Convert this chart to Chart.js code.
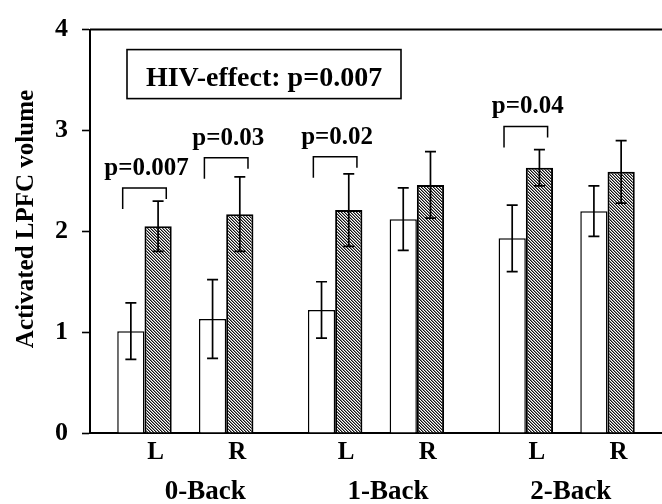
<!DOCTYPE html>
<html>
<head>
<meta charset="utf-8">
<script src="https://cdn.jsdelivr.net/npm/chart.js@4.4.1/dist/chart.umd.min.js"></script>
<style>
  html, body { margin: 0; padding: 0; background: #fff; }
  canvas { display: block; }
</style>
</head>
<body>
<canvas id="lpfcChart" width="662" height="504"></canvas>
<script>
// Values (order: 0-Back L, 0-Back R, 1-Back L, 1-Back R, 2-Back L, 2-Back R)
const tasks = ["0-Back", "1-Back", "2-Back"];
const hemispheres = ["L", "R"];
const controlMeans = [1.01, 1.13, 1.22, 2.12, 1.93, 2.20];
const controlErr = [0.28, 0.39, 0.28, 0.31, 0.33, 0.25];
const hivMeans = [2.05, 2.17, 2.21, 2.46, 2.63, 2.59];
const hivErr = [0.25, 0.37, 0.36, 0.33, 0.18, 0.31];
const yTicks = [0, 1, 2, 3, 4];
const pLabels = ["p=0.007", "p=0.03", "p=0.02", null, "p=0.04", null];
const pBracketY = [2.43, 2.73, 2.74, null, 3.04, null];
const hivEffectText = "HIV-effect: p=0.007";
const yTitle = "Activated LPFC volume";

document.addEventListener("DOMContentLoaded", function () {
    const FONT = "'Liberation Serif', 'Times New Roman', serif";
    const canvas = document.getElementById("lpfcChart");
    const ctx = canvas.getContext("2d");

    // spacing in bar widths: L->R inside a task, and task to task
    const pairStep = 3;
    const taskStep = 7;
    const taskLabelNudge = [20, 12, 4]; // px, the task names sit a bit right
    const positions = [];
    const tickText = {};
    tasks.forEach((t, ti) => {
        hemispheres.forEach((h, hi) => {
            const p = ti * taskStep + hi * pairStep;
            positions.push(p);
            tickText[p] = h;
        });
    });

    // diagonal hatch for the HIV bars
    function makeHatch() {
        const c = document.createElement("canvas");
        c.width = 3;
        c.height = 3;
        const g = c.getContext("2d");
        g.fillStyle = "#fff";
        g.fillRect(0, 0, 3, 3);
        for (let i = 0; i < 3; i++) {
            g.fillStyle = "#111";
            g.fillRect(i, i, 1, 1);
            g.fillStyle = "#8a8a8a";
            g.fillRect((i + 1) % 3, i, 1, 1);
        }
        return ctx.createPattern(c, "repeat");
    }

    const extras = {
        id: "extras",
        afterDatasetsDraw(chart) {
            const c = chart.ctx;
            const xs = chart.scales.x;
            const ys = chart.scales.y;
            const area = chart.chartArea;
            c.save();
            c.strokeStyle = "#000";
            c.fillStyle = "#000";

            // error bars
            [[controlMeans, controlErr], [hivMeans, hivErr]].forEach(([means, errs], di) => {
                chart.getDatasetMeta(di).data.forEach((bar, i) => {
                    const top = ys.getPixelForValue(means[i] + errs[i]);
                    const bot = ys.getPixelForValue(means[i] - errs[i]);
                    c.lineWidth = 1.7;
                    c.beginPath();
                    c.moveTo(bar.x, top); c.lineTo(bar.x, bot);
                    c.moveTo(bar.x - 5.5, top); c.lineTo(bar.x + 5.5, top);
                    c.moveTo(bar.x - 5.5, bot); c.lineTo(bar.x + 5.5, bot);
                    c.stroke();
                });
            });

            // p-value brackets
            c.font = "bold 25px " + FONT;
            c.textAlign = "center";
            c.textBaseline = "alphabetic";
            pLabels.forEach((lab, i) => {
                if (!lab) return;
                const x0 = xs.getPixelForValue(positions[i] - 0.8);
                const x1 = xs.getPixelForValue(positions[i] + 0.8);
                const yb = ys.getPixelForValue(pBracketY[i]);
                c.lineWidth = 1.5;
                c.beginPath();
                c.moveTo(x0, yb + 21); c.lineTo(x0, yb); c.lineTo(x1, yb); c.lineTo(x1, yb + 11);
                c.stroke();
                c.fillText(lab, xs.getPixelForValue(positions[i]) + 2, yb - 13);
            });

            // top frame line
            c.lineWidth = 2;
            c.beginPath();
            c.moveTo(area.left, area.top); c.lineTo(area.right, area.top);
            c.stroke();

            // HIV-effect box
            const bx = area.left + 37, by = area.top + 20, bw = 274, bh = 49;
            c.lineWidth = 1.6;
            c.strokeRect(bx, by, bw, bh);
            c.font = "bold 28px " + FONT;
            c.fillText(hivEffectText, bx + bw / 2, by + 36);

            // task names under the L/R labels
            c.font = "bold 27px " + FONT;
            tasks.forEach((t, ti) => {
                const mid = xs.getPixelForValue(ti * taskStep + pairStep / 2) + taskLabelNudge[ti];
                c.fillText(t, mid, 499);
            });

            // y title
            c.font = "bold 25px " + FONT;
            c.translate(33, 219);
            c.rotate(-Math.PI / 2);
            c.fillText(yTitle, 0, 0);
            c.restore();
        }
    };

    const chart = new Chart(ctx, {
        type: "bar",
        data: {
            datasets: [{
                label: "Control",
                data: positions.map((p, i) => ({ x: p, y: controlMeans[i] })),
                backgroundColor: "#fff",
                borderColor: "#000",
                borderWidth: 1.5
            }, {
                label: "HIV",
                data: positions.map((p, i) => ({ x: p, y: hivMeans[i] })),
                backgroundColor: makeHatch(),
                borderColor: "#000",
                borderWidth: 2
            }]
        },
        options: {
            responsive: false,
            animation: false,
            layout: { padding: { top: 23, right: 0, left: 0, bottom: 0 } },
            categoryPercentage: 2 / 3,
            barPercentage: 1,
            plugins: {
                legend: { display: false },
                tooltip: { enabled: false }
            },
            scales: {
                x: {
                    type: "linear",
                    offset: false,
                    min: -2,
                    max: 19,
                    afterBuildTicks: (scale) => {
                        scale.ticks = positions.map(v => ({ value: v }));
                    },
                    afterFit: (scale) => { scale.height = 71; },
                    grid: { display: false, drawTicks: false },
                    border: { display: true, color: "#000", width: 2 },
                    ticks: {
                        autoSkip: false,
                        maxRotation: 0,
                        padding: 5,
                        labelOffset: 11,
                        color: "#000",
                        font: { family: FONT, size: 25, weight: "bold" },
                        callback: (v) => tickText[v] || ""
                    }
                },
                y: {
                    min: 0,
                    max: 4,
                    afterBuildTicks: (scale) => {
                        scale.ticks = yTicks.map(v => ({ value: v }));
                    },
                    afterFit: (scale) => { scale.width = 90; },
                    grid: {
                        display: true,
                        drawOnChartArea: false,
                        drawTicks: true,
                        tickLength: 8,
                        tickColor: "#000",
                        tickWidth: 1.6
                    },
                    border: { display: true, color: "#000", width: 2 },
                    ticks: {
                        padding: 14,
                        color: "#000",
                        font: { family: FONT, size: 26, weight: "bold" }
                    }
                }
            }
        },
        plugins: [extras]
    });
});
</script>
</body>
</html>
